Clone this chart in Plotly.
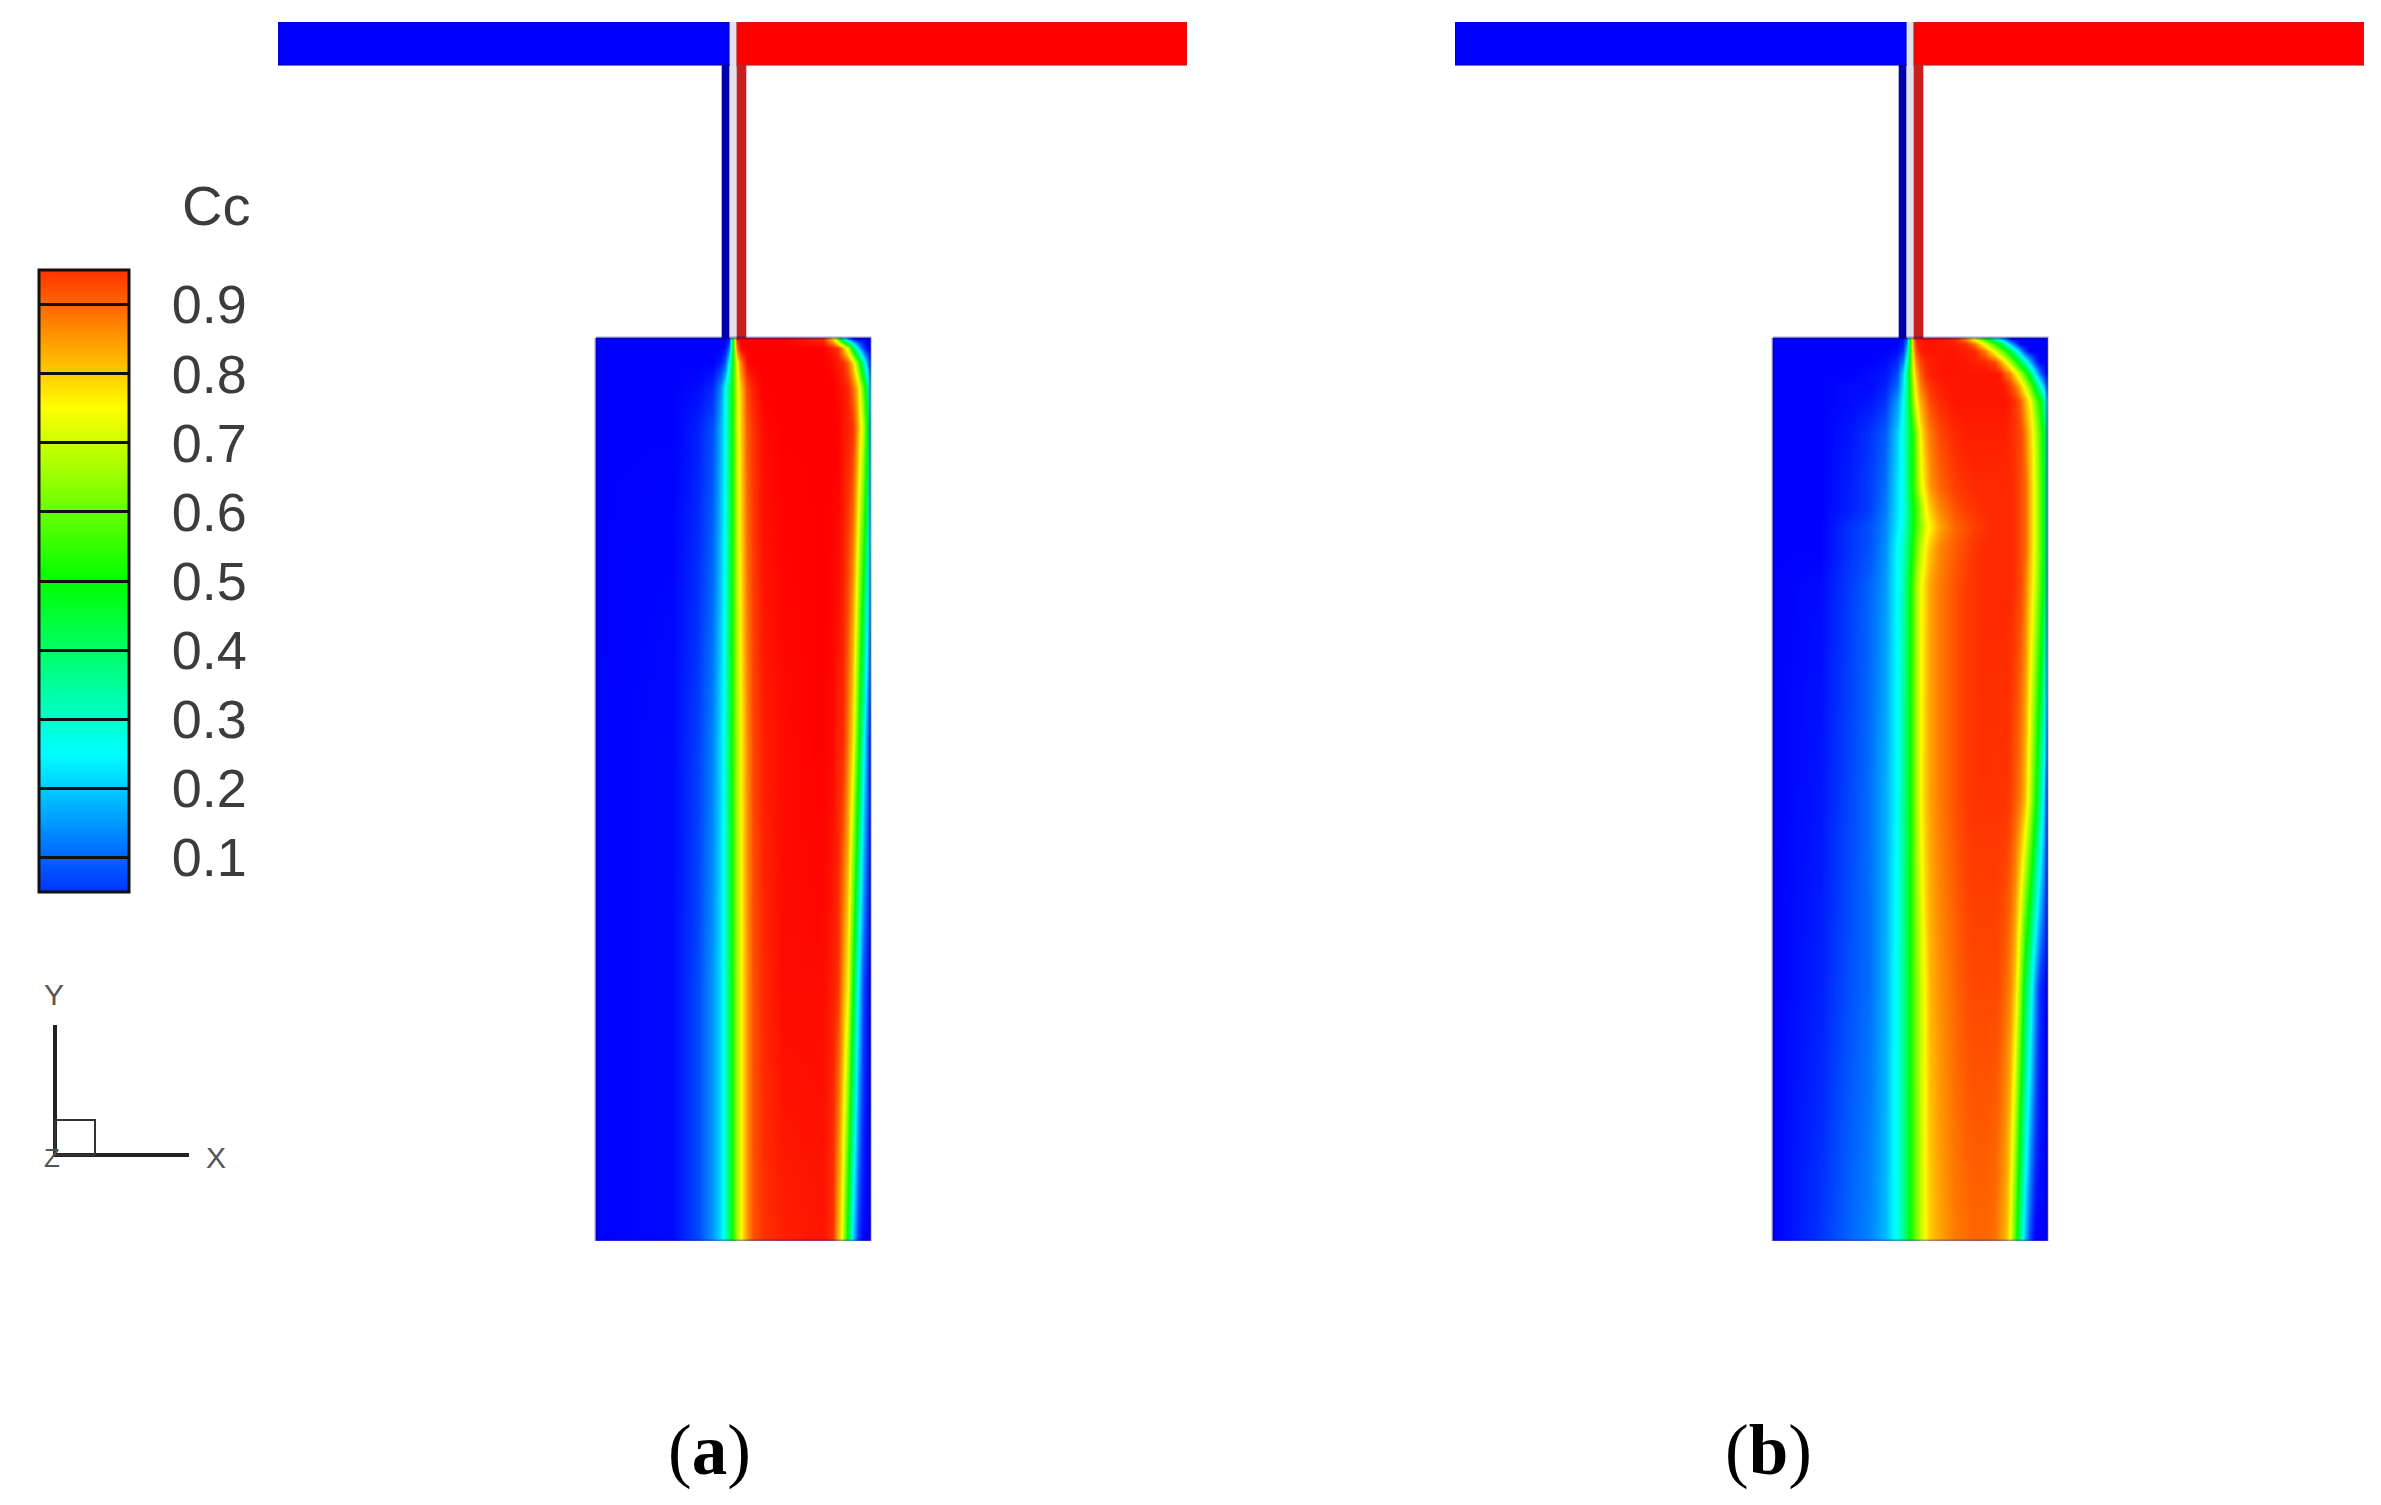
import plotly.graph_objects as go

W, H = 2381, 1505

# Tecplot-like rainbow, concentration Cc
RAINBOW = [[0.0, "rgb(0,0,255)"], [0.25, "rgb(0,255,255)"], [0.5, "rgb(0,255,0)"],
           [0.75, "rgb(255,255,0)"], [1.0, "rgb(255,0,0)"]]
BAR_SCALE = [[0.0, "rgb(0,51,255)"], [0.2222, "rgb(0,255,255)"], [0.5, "rgb(0,255,0)"],
             [0.7778, "rgb(255,255,0)"], [1.0, "rgb(255,51,0)"]]
cc_ticks = [0.1, 0.2, 0.3, 0.4, 0.5, 0.6, 0.7, 0.8, 0.9]

# Chamber field, panel (a): columns = x from mid-plane, rows = depth below chamber top
x_a = [-137, -60, -35, -20, -12, -8, -4, 0, 4, 8, 14, 20, 30, 50, 90, 100, 105, 110, 115, 120, 125, 130, 134, 137]
y_a = [0, 10, 25, 50, 90, 400, 650, 903]
z_a = [
    [0, 0, 0, 0, 0, 0, .02, .5, .98, 1, 1, 1, 1, 1, .96, .79, .6, .35, .14, .03, 0, 0, 0, 0],
    [0, 0, 0, 0, 0, .01, .1, .5, .9, 1, 1, 1, 1, 1, 1, .97, .95, .83, .7, .45, .21, .07, 0, 0],
    [0, 0, 0, 0, .03, .08, .25, .52, .75, .88, .99, 1, 1, 1, 1, .99, .97, .96, .9, .79, .6, .35, .17, .09],
    [0, 0, .01, .04, .14, .25, .38, .54, .71, .81, .93, .97, 1, 1, 1, 1, .99, .98, .96, .9, .79, .6, .4, .25],
    [0, 0, .03, .08, .18, .25, .38, .54, .7, .8, .91, .95, .99, 1, 1, 1, 1, .98, .97, .95, .83, .7, .5, .35],
    [0, .01, .06, .13, .22, .28, .42, .55, .67, .76, .86, .93, .97, .99, 1, .99, .97, .96, .88, .77, .55, .3, .14, .06],
    [0, .01, .07, .15, .22, .3, .4, .54, .66, .75, .85, .92, .96, .99, .99, .97, .95, .85, .75, .5, .25, .08, .02, .01],
    [0, .01, .07, .15, .22, .3, .4, .54, .66, .75, .85, .92, .95, .97, .98, .95, .83, .7, .45, .21, .06, 0, 0, 0],
]

# Chamber field, panel (b)
x_b = [-137, -90, -60, -40, -25, -13, -7, -3, 0, 3, 6, 10, 15, 20, 30, 45, 55, 65, 75, 85,
       90, 95, 100, 105, 110, 115, 120, 125, 130, 137]
y_b = [0, 6, 13, 24, 36, 48, 63, 96, 150, 170, 189, 210, 250, 463, 650, 903]
z_b = [
    [0, 0, 0, 0, 0, 0, .01, .1, .5, .85, .97, .98, .98, .98, .98, .96, .88, .72, .55, .33, .21, .12, .02, 0, 0, 0, 0, 0, 0, 0],
    [0, 0, 0, 0, 0, 0, .03, .15, .5, .82, .95, .97, .98, .98, .98, .97, .96, .88, .72, .55, .47, .32, .2, .09, 0, 0, 0, 0, 0, 0],
    [0, 0, 0, 0, 0, .01, .05, .2, .5, .8, .92, .97, .98, .98, .98, .98, .97, .96, .88, .72, .63, .55, .44, .31, .18, .05, 0, 0, 0, 0],
    [0, 0, 0, 0, .01, .04, .12, .3, .53, .76, .87, .93, .96, .97, .98, .98, .98, .97, .96, .93, .85, .77, .67, .56, .44, .31, .18, .06, 0, 0],
    [0, 0, 0, .01, .02, .07, .2, .38, .55, .72, .82, .9, .95, .97, .98, .98, .98, .98, .98, .98, .97, .92, .87, .78, .68, .57, .43, .25, .11, 0],
    [0, 0, .01, .01, .03, .1, .22, .38, .52, .69, .78, .87, .92, .95, .97, .98, .98, .98, .98, .98, .98, .97, .94, .89, .82, .72, .6, .46, .29, .1],
    [0, 0, .01, .02, .05, .15, .25, .38, .5, .66, .74, .83, .88, .93, .96, .98, .98, .98, .98, .98, .98, .98, .97, .95, .91, .83, .75, .62, .5, .25],
    [0, 0, .02, .05, .09, .2, .28, .36, .45, .53, .62, .75, .83, .88, .93, .96, .97, .97, .97, .97, .97, .97, .96, .95, .93, .88, .8, .7, .58, .35],
    [0, 0, .03, .06, .11, .22, .27, .36, .45, .53, .6, .71, .78, .85, .9, .94, .95, .96, .96, .96, .96, .96, .96, .95, .93, .9, .82, .72, .6, .36],
    [0, 0, .03, .06, .12, .22, .27, .34, .42, .49, .55, .64, .74, .8, .87, .92, .94, .95, .96, .96, .96, .96, .96, .95, .93, .9, .82, .72, .6, .36],
    [0, 0, .05, .08, .13, .23, .28, .36, .43, .5, .56, .63, .71, .76, .84, .9, .92, .94, .95, .96, .96, .96, .96, .95, .93, .9, .82, .72, .6, .36],
    [0, 0, .05, .08, .14, .25, .3, .38, .45, .53, .6, .68, .75, .81, .87, .91, .93, .95, .96, .96, .96, .96, .96, .95, .93, .9, .82, .72, .6, .36],
    [0, .01, .06, .1, .15, .25, .32, .42, .5, .58, .65, .73, .79, .84, .88, .92, .94, .95, .96, .96, .96, .96, .96, .95, .93, .88, .8, .7, .58, .35],
    [0, .02, .07, .11, .17, .25, .35, .43, .5, .58, .65, .74, .8, .84, .88, .92, .94, .95, .95, .95, .95, .95, .94, .91, .88, .81, .69, .53, .36, .1],
    [0, .03, .08, .11, .17, .27, .35, .43, .5, .57, .62, .69, .76, .82, .86, .9, .92, .93, .93, .93, .92, .9, .87, .8, .65, .44, .31, .15, .04, 0],
    [0, .05, .1, .13, .18, .27, .35, .43, .5, .56, .61, .68, .75, .8, .84, .88, .89, .9, .9, .89, .86, .83, .75, .57, .37, .19, .07, 0, 0, 0],
]

# Channel geometry (same units as the field: x from mid-plane, depth below chamber top)
BAR_TOP, BAR_BOTTOM, CHAMBER_TOP, CHAMBER_BOTTOM = -316, -273, 0, 903
BAR_L, BAR_R = -455, 454
NECK_BLUE = (-11, -4)
NECK_RED = (4, 13)
BAR_BLUE_END, BAR_RED_START = -4, 4


def padded(xs, ys, zs):
    """Add a repeated edge station just inside the wall so the smoothed image stops at the wall."""
    nx = [xs[0]] + [xs[0] + 0.5] + xs[1:-1] + [xs[-1] - 0.5] + [xs[-1]]
    ny = [ys[0]] + [ys[0] + 0.5] + ys[1:-1] + [ys[-1] - 0.5] + [ys[-1]]
    rows = [[r[0]] + r + [r[-1]] for r in zs]
    rows = [rows[0]] + rows + [rows[-1]]
    return nx, ny, rows


def rect(x0, x1, y0, y1):
    return [x0, x1, x1, x0, x0], [y0, y0, y1, y1, y0]


fig = go.Figure()


def panel(xref, yref, xs, ys, zs):
    for (x0, x1, y0, y1), fill, edge in [
        ((-4, 4, BAR_TOP, CHAMBER_TOP), "rgb(226,226,236)", "rgba(226,226,236,0)"),
        ((BAR_L, BAR_BLUE_END, BAR_TOP, BAR_BOTTOM), "rgb(0,0,255)", "rgba(0,0,170,0.55)"),
        ((BAR_RED_START, BAR_R, BAR_TOP, BAR_BOTTOM), "rgb(255,0,0)", "rgba(190,30,30,0.6)"),
        ((NECK_BLUE[0], NECK_BLUE[1], BAR_BOTTOM, CHAMBER_TOP), "rgb(0,0,170)", "rgba(0,0,170,0.3)"),
        ((NECK_RED[0], NECK_RED[1], BAR_BOTTOM, CHAMBER_TOP), "rgb(200,30,30)", "rgba(200,30,30,0.3)"),
    ]:
        px, py = rect(x0, x1, y0, y1)
        fig.add_trace(go.Scatter(x=px, y=py, mode="lines", fill="toself", fillcolor=fill,
                                 line=dict(color=edge, width=2), xaxis=xref, yaxis=yref,
                                 hoverinfo="skip", showlegend=False))
    nx, ny, nz = padded(xs, ys, zs)
    fig.add_trace(go.Heatmap(x=nx, y=ny, z=nz, zmin=0, zmax=1, colorscale=RAINBOW, zsmooth="best",
                             showscale=False, xaxis=xref, yaxis=yref, hoverinfo="skip"))
    px, py = rect(xs[0], xs[-1], CHAMBER_TOP, CHAMBER_BOTTOM)
    fig.add_trace(go.Scatter(x=px, y=py, mode="lines", line=dict(color="rgba(0,0,120,0.35)", width=3),
                             xaxis=xref, yaxis=yref, hoverinfo="skip", showlegend=False))


panel("x", "y", x_a, y_a, z_a)
panel("x2", "y2", x_b, y_b, z_b)

# Colour legend carrier (lies outside the axis range)
fig.add_trace(go.Heatmap(
    x=[9000, 9001], y=[9000, 9001], z=[[0.05, 0.95], [0.05, 0.95]], zmin=0.05, zmax=0.95,
    colorscale=BAR_SCALE, xaxis="x", yaxis="y", hoverinfo="skip",
    colorbar=dict(
        x=39 / W, xanchor="left", xpad=0, y=1 - 270 / H, yanchor="top", ypad=0,
        lenmode="pixels", len=622, thicknessmode="pixels", thickness=90,
        outlinecolor="#111111", outlinewidth=3,
        ticks="inside", ticklen=90, tickwidth=3, tickcolor="#111111",
        tickvals=cc_ticks, ticktext=["\u00a0\u00a0" + format(v, ".1f") for v in cc_ticks],
        tickfont=dict(family="Liberation Sans", size=54, color="#3c3c3c"),
    ),
))

fig.update_layout(
    width=W, height=H, margin=dict(l=0, r=0, t=0, b=0), paper_bgcolor="white", plot_bgcolor="rgba(0,0,0,0)",
    xaxis=dict(domain=[278 / W, 1187 / W], range=[BAR_L, BAR_R], visible=False),
    xaxis2=dict(domain=[1455 / W, 2364 / W], range=[BAR_L, BAR_R], visible=False),
    yaxis=dict(domain=[1 - 1241 / H, 1 - 22 / H], range=[CHAMBER_BOTTOM, BAR_TOP], visible=False),
    yaxis2=dict(domain=[1 - 1241 / H, 1 - 22 / H], range=[CHAMBER_BOTTOM, BAR_TOP], visible=False, anchor="x2"),
    shapes=[
        dict(type="line", xref="paper", yref="paper", x0=55 / W, x1=55 / W, y0=1 - 1025 / H, y1=1 - 1157 / H,
             line=dict(color="#222222", width=4)),
        dict(type="line", xref="paper", yref="paper", x0=55 / W, x1=189 / W, y0=1 - 1155 / H, y1=1 - 1155 / H,
             line=dict(color="#222222", width=4)),
        dict(type="rect", xref="paper", yref="paper", x0=55 / W, x1=95 / W, y0=1 - 1155 / H, y1=1 - 1120 / H,
             line=dict(color="#333333", width=2)),
    ],
    annotations=[
        dict(text="Cc", x=216 / W, y=1 - 206 / H, font=dict(family="Liberation Sans", size=56, color="#3c3c3c")),
        dict(text="Y", x=54 / W, y=1 - 994 / H, font=dict(family="Liberation Sans", size=30, color="#555555")),
        dict(text="X", x=216 / W, y=1 - 1157 / H, font=dict(family="Liberation Sans", size=30, color="#555555")),
        dict(text="Z", x=52 / W, y=1 - 1158 / H, font=dict(family="Liberation Sans", size=26, color="#555555")),
        dict(text="(<b>a</b>)", x=709 / W, y=1 - 1450 / H, font=dict(family="Liberation Serif", size=71, color="black")),
        dict(text="(<b>b</b>)", x=1768 / W, y=1 - 1450 / H, font=dict(family="Liberation Serif", size=71, color="black")),
    ],
)
for a in fig.layout.annotations:
    a.update(xref="paper", yref="paper", showarrow=False, xanchor="center", yanchor="middle")

fig.write_html("out.html", config={"displayModeBar": False}, post_script="document.body.style.margin='0';")
